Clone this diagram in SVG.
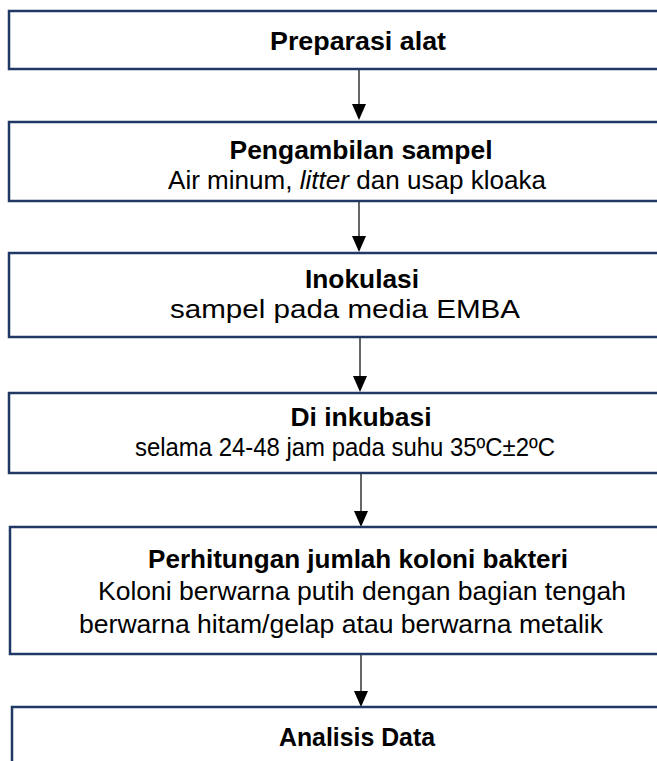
<svg xmlns="http://www.w3.org/2000/svg" width="657" height="761" viewBox="0 0 657 761">
<defs>
<style>
.box{fill:#ffffff;stroke:#1f3864;stroke-width:2.5}
.t{font-family:"Liberation Sans",Arial,sans-serif;font-size:26px;fill:#000;text-anchor:middle}
.b{font-weight:bold}
.con{stroke:#000;stroke-width:1.2;fill:none}
.ah{fill:#000}
</style>
</defs>
<rect width="657" height="761" fill="#ffffff"/>
<g id="connectors">
<path class="con" d="M359,69 V105"/>
<path class="ah" d="M352,104 L366,104 L359,120 z"/>
<path class="con" d="M359,201 V237"/>
<path class="ah" d="M352,236 L366,236 L359,252 z"/>
<path class="con" d="M360,337 V377"/>
<path class="ah" d="M353,376 L367,376 L360,392 z"/>
<path class="con" d="M361,473 V512"/>
<path class="ah" d="M354,511 L368,511 L361,527 z"/>
<path class="con" d="M361,654 V692"/>
<path class="ah" d="M354,691 L368,691 L361,707 z"/>
</g>
<g id="n1">
<rect class="box" x="9" y="11" width="680" height="58"/>
<text class="t b" x="358" y="50" textLength="176" lengthAdjust="spacingAndGlyphs">Preparasi alat</text>
</g>
<g id="n2">
<rect class="box" x="9" y="122" width="680" height="79"/>
<text class="t b" x="361" y="159" textLength="263" lengthAdjust="spacingAndGlyphs">Pengambilan sampel</text>
<text class="t" x="357" y="189" textLength="378" lengthAdjust="spacingAndGlyphs">Air minum, <tspan font-style="italic">litter</tspan> dan usap kloaka</text>
</g>
<g id="n3">
<rect class="box" x="9" y="253" width="680" height="84"/>
<text class="t b" x="362" y="288" textLength="114" lengthAdjust="spacingAndGlyphs">Inokulasi</text>
<text class="t" x="345" y="318" textLength="350" lengthAdjust="spacingAndGlyphs">sampel pada media EMBA</text>
</g>
<g id="n4">
<rect class="box" x="9" y="393" width="680" height="80"/>
<text class="t b" x="361" y="426" textLength="141" lengthAdjust="spacingAndGlyphs">Di inkubasi</text>
<text class="t" x="345" y="456" textLength="420" lengthAdjust="spacingAndGlyphs">selama 24-48 jam pada suhu 35ºC±2ºC</text>
</g>
<g id="n5">
<rect class="box" x="10" y="527" width="680" height="127"/>
<text class="t b" x="358" y="568" textLength="420" lengthAdjust="spacingAndGlyphs">Perhitungan jumlah koloni bakteri</text>
<text class="t" x="362" y="600" textLength="528" lengthAdjust="spacingAndGlyphs">Koloni berwarna putih dengan bagian tengah</text>
<text class="t" x="341" y="633" textLength="524" lengthAdjust="spacingAndGlyphs">berwarna hitam/gelap atau berwarna metalik</text>
</g>
<g id="n6">
<rect class="box" x="12" y="707" width="680" height="80"/>
<text class="t b" x="357" y="746" textLength="156" lengthAdjust="spacingAndGlyphs">Analisis Data</text>
</g>
</svg>
